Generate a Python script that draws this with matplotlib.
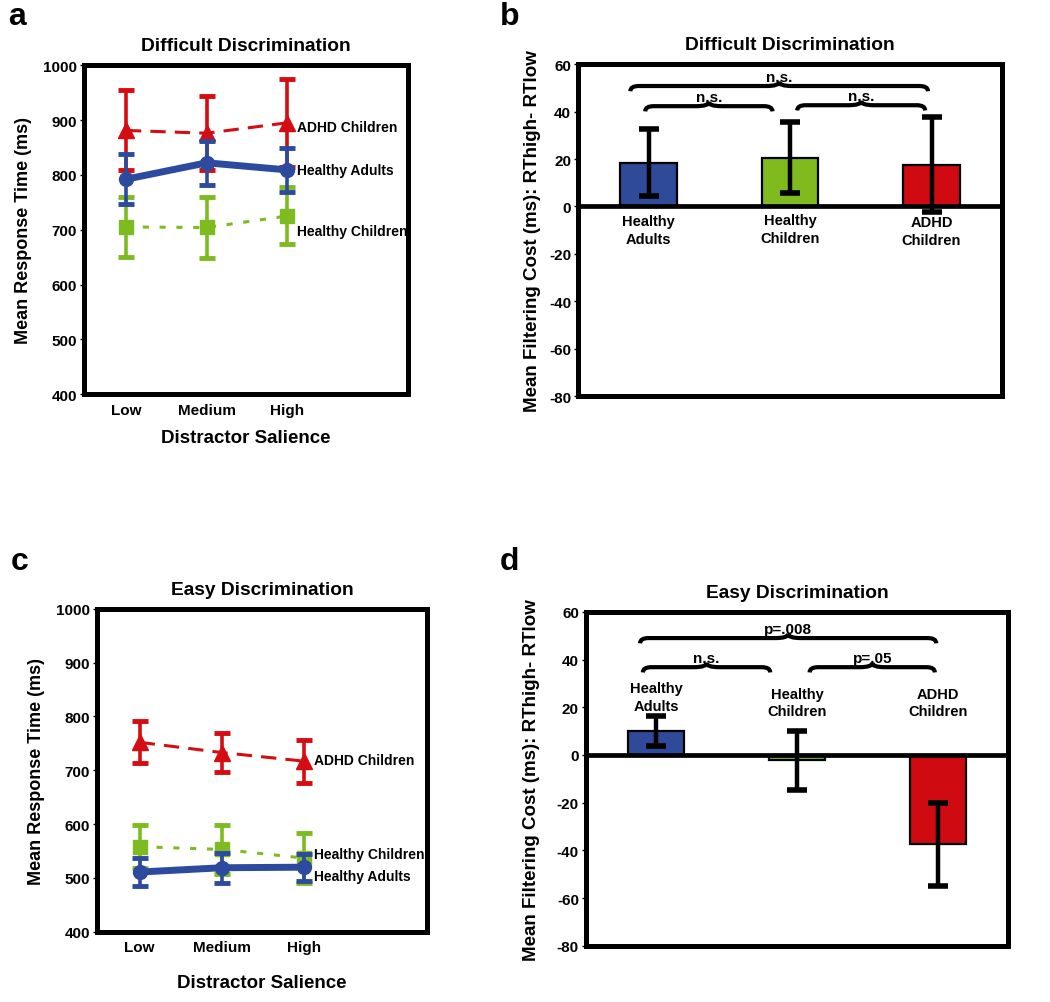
import numpy as np
import matplotlib.pyplot as plt
from matplotlib.path import Path
from matplotlib.patches import PathPatch

plt.rcParams['font.family'] = ['Liberation Sans', 'DejaVu Sans']
plt.rcParams['font.weight'] = 'bold'
plt.rcParams['axes.labelweight'] = 'bold'
plt.rcParams['axes.unicode_minus'] = False

# data
salience = ['Low', 'Medium', 'High']
groups = ['Healthy\nAdults', 'Healthy\nChildren', 'ADHD\nChildren']

# difficult discrimination, mean RT (ms) and error
diff_adults = [792, 822, 809]
diff_adults_err = [46, 40, 40]
diff_children = [705, 704, 725]
diff_children_err = [55, 55, 52]
diff_adhd = [881, 876, 895]
diff_adhd_err = [73, 67, 80]

# easy discrimination
easy_adults = [511, 519, 520]
easy_adults_err = [26, 28, 25]
easy_children = [558, 553, 537]
easy_children_err = [40, 45, 47]
easy_adhd = [752, 733, 717]
easy_adhd_err = [39, 37, 40]

# filtering cost (RThigh - RTlow)
cost_diff = [18.5, 20.5, 17.7]
cost_diff_err = [14, 15, 20]
cost_easy = [10.0, -2.2, -37.5]
cost_easy_err = [6.2, 12.3, 17.3]

# braces: x1, x2, y, label
braces_diff = [(-0.13, 1.975, 50.8, 'n.s.'), (-0.025, 0.875, 42.3, 'n.s.'), (1.05, 1.955, 42.7, 'n.s.')]
braces_easy = [(-0.115, 1.99, 49.0, 'p=.008'), (-0.095, 0.81, 36.8, 'n.s.'), (1.09, 1.98, 36.8, 'p=.05')]

BLUE = '#2c4b9e'
GREEN = '#7dbb20'
RED = '#d50c12'
BAR_BLUE = '#2e4a98'
BAR_GREEN = '#7fba1e'
BAR_RED = '#cf0a10'

fig = plt.figure(figsize=(10.5, 10.03), dpi=100)


def frame(ax):
    for s in ax.spines.values():
        s.set_linewidth(3.6)
    ax.tick_params(axis='y', length=3, width=1, labelsize=11, pad=2)
    ax.tick_params(axis='x', length=0, labelsize=11, pad=6)


def line_panel(rect, title, adhd, adhd_err, children, children_err, adults, adults_err,
               lab_y, xpad):
    ax = fig.add_axes(rect)
    x = np.arange(1, 4)
    ax.errorbar(x, adhd, yerr=adhd_err, color=RED, ls=(0, (5, 3)), lw=2.2, marker='^',
                ms=11, elinewidth=2.6, capsize=6, capthick=3.5, zorder=2)
    ax.errorbar(x, children, yerr=children_err, color=GREEN, ls=(0, (2, 3.5)), lw=2.2,
                marker='s', ms=10, elinewidth=2.6, capsize=6, capthick=3.5, zorder=3)
    ax.errorbar(x, adults, yerr=adults_err, color=BLUE, ls='-', lw=5, marker='o',
                ms=10, elinewidth=2.6, capsize=6, capthick=3.5, zorder=4)
    names = ['ADHD Children', 'Healthy Adults', 'Healthy Children']
    for n, yy in zip(names, lab_y):
        ax.text(3.12, yy, n, fontsize=10, va='center', ha='left', zorder=5)
    ax.set_xlim(0.48, 4.5)
    ax.set_ylim(400, 1000)
    ax.set_yticks(range(400, 1001, 100))
    ax.set_xticks(x)
    ax.set_xticklabels(salience)
    ax.set_title(title, fontsize=13.8, fontweight='bold', pad=11)
    ax.set_ylabel('Mean Response Time (ms)', fontsize=13, labelpad=8)
    ax.set_xlabel('Distractor Salience', fontsize=13.5, labelpad=xpad)
    frame(ax)
    return ax


def brace(ax, x1, x2, y, label, hd=2.2, cu=1.8):
    xm = (x1 + x2) / 2
    hw = 0.06
    cw = 0.09
    verts = [(x1, y - hd), (x1, y), (x1 + hw, y),
             (xm - cw, y),
             (xm, y), (xm, y + cu),
             (xm, y), (xm + cw, y),
             (x2 - hw, y),
             (x2, y), (x2, y - hd)]
    codes = [Path.MOVETO, Path.CURVE3, Path.CURVE3,
             Path.LINETO,
             Path.CURVE3, Path.CURVE3,
             Path.CURVE3, Path.CURVE3,
             Path.LINETO,
             Path.CURVE3, Path.CURVE3]
    ax.add_patch(PathPatch(Path(verts, codes), fill=False, lw=3, color='black',
                           capstyle='butt', zorder=5))
    ax.text(xm, y + cu * 0.55, label, ha='center', va='bottom', fontsize=11, zorder=6)


def bar_panel(rect, title, vals, errs, braces, label_y, ypad):
    ax = fig.add_axes(rect)
    x = np.arange(3)
    ax.bar(x, vals, width=0.4, color=[BAR_BLUE, BAR_GREEN, BAR_RED], edgecolor='black',
           lw=1.6, zorder=2)
    ax.errorbar(x, vals, yerr=errs, fmt='none', ecolor='black', elinewidth=3.2,
                capsize=7, capthick=4, zorder=3)
    ax.axhline(0, color='black', lw=3.4, zorder=4)
    for xi, g, ly in zip(x, groups, label_y):
        ax.text(xi, ly, g, ha='center', va='center', fontsize=10.5, linespacing=1.35, zorder=6)
    for x1, x2, y, lab in braces:
        brace(ax, x1, x2, y, lab)
    ax.set_xlim(-0.5, 2.5)
    ax.set_ylim(-80, 60)
    ax.set_yticks(range(-80, 61, 20))
    ax.set_xticks([])
    ax.set_title(title, fontsize=13.8, fontweight='bold', pad=11)
    ax.set_ylabel('Mean Filtering Cost (ms): RThigh- RTlow', fontsize=13.5, labelpad=ypad)
    frame(ax)
    return ax


line_panel([0.080, 0.606, 0.309, 0.328], 'Difficult Discrimination',
           diff_adhd, diff_adhd_err, diff_children, diff_children_err,
           diff_adults, diff_adults_err, [887, 808, 698], 9)
bar_panel([0.5505, 0.604, 0.404, 0.331], 'Difficult Discrimination',
          cost_diff, cost_diff_err, braces_diff, [-9.8, -9.5, -10.5], 6)
line_panel([0.0924, 0.070, 0.3143, 0.322], 'Easy Discrimination',
           easy_adhd, easy_adhd_err, easy_children, easy_children_err,
           easy_adults, easy_adults_err, [720, 504, 545], 14)
bar_panel([0.558, 0.056, 0.402, 0.333], 'Easy Discrimination',
          cost_easy, cost_easy_err, braces_easy, [24.4, 22, 22], 12)

for lab, (fx, fy) in zip('abcd', [(0.008, 0.968), (0.476, 0.968), (0.010, 0.425), (0.476, 0.425)]):
    fig.text(fx, fy, lab, fontsize=23, fontweight='bold', ha='left', va='bottom')

fig.savefig('out.png', dpi=100)
